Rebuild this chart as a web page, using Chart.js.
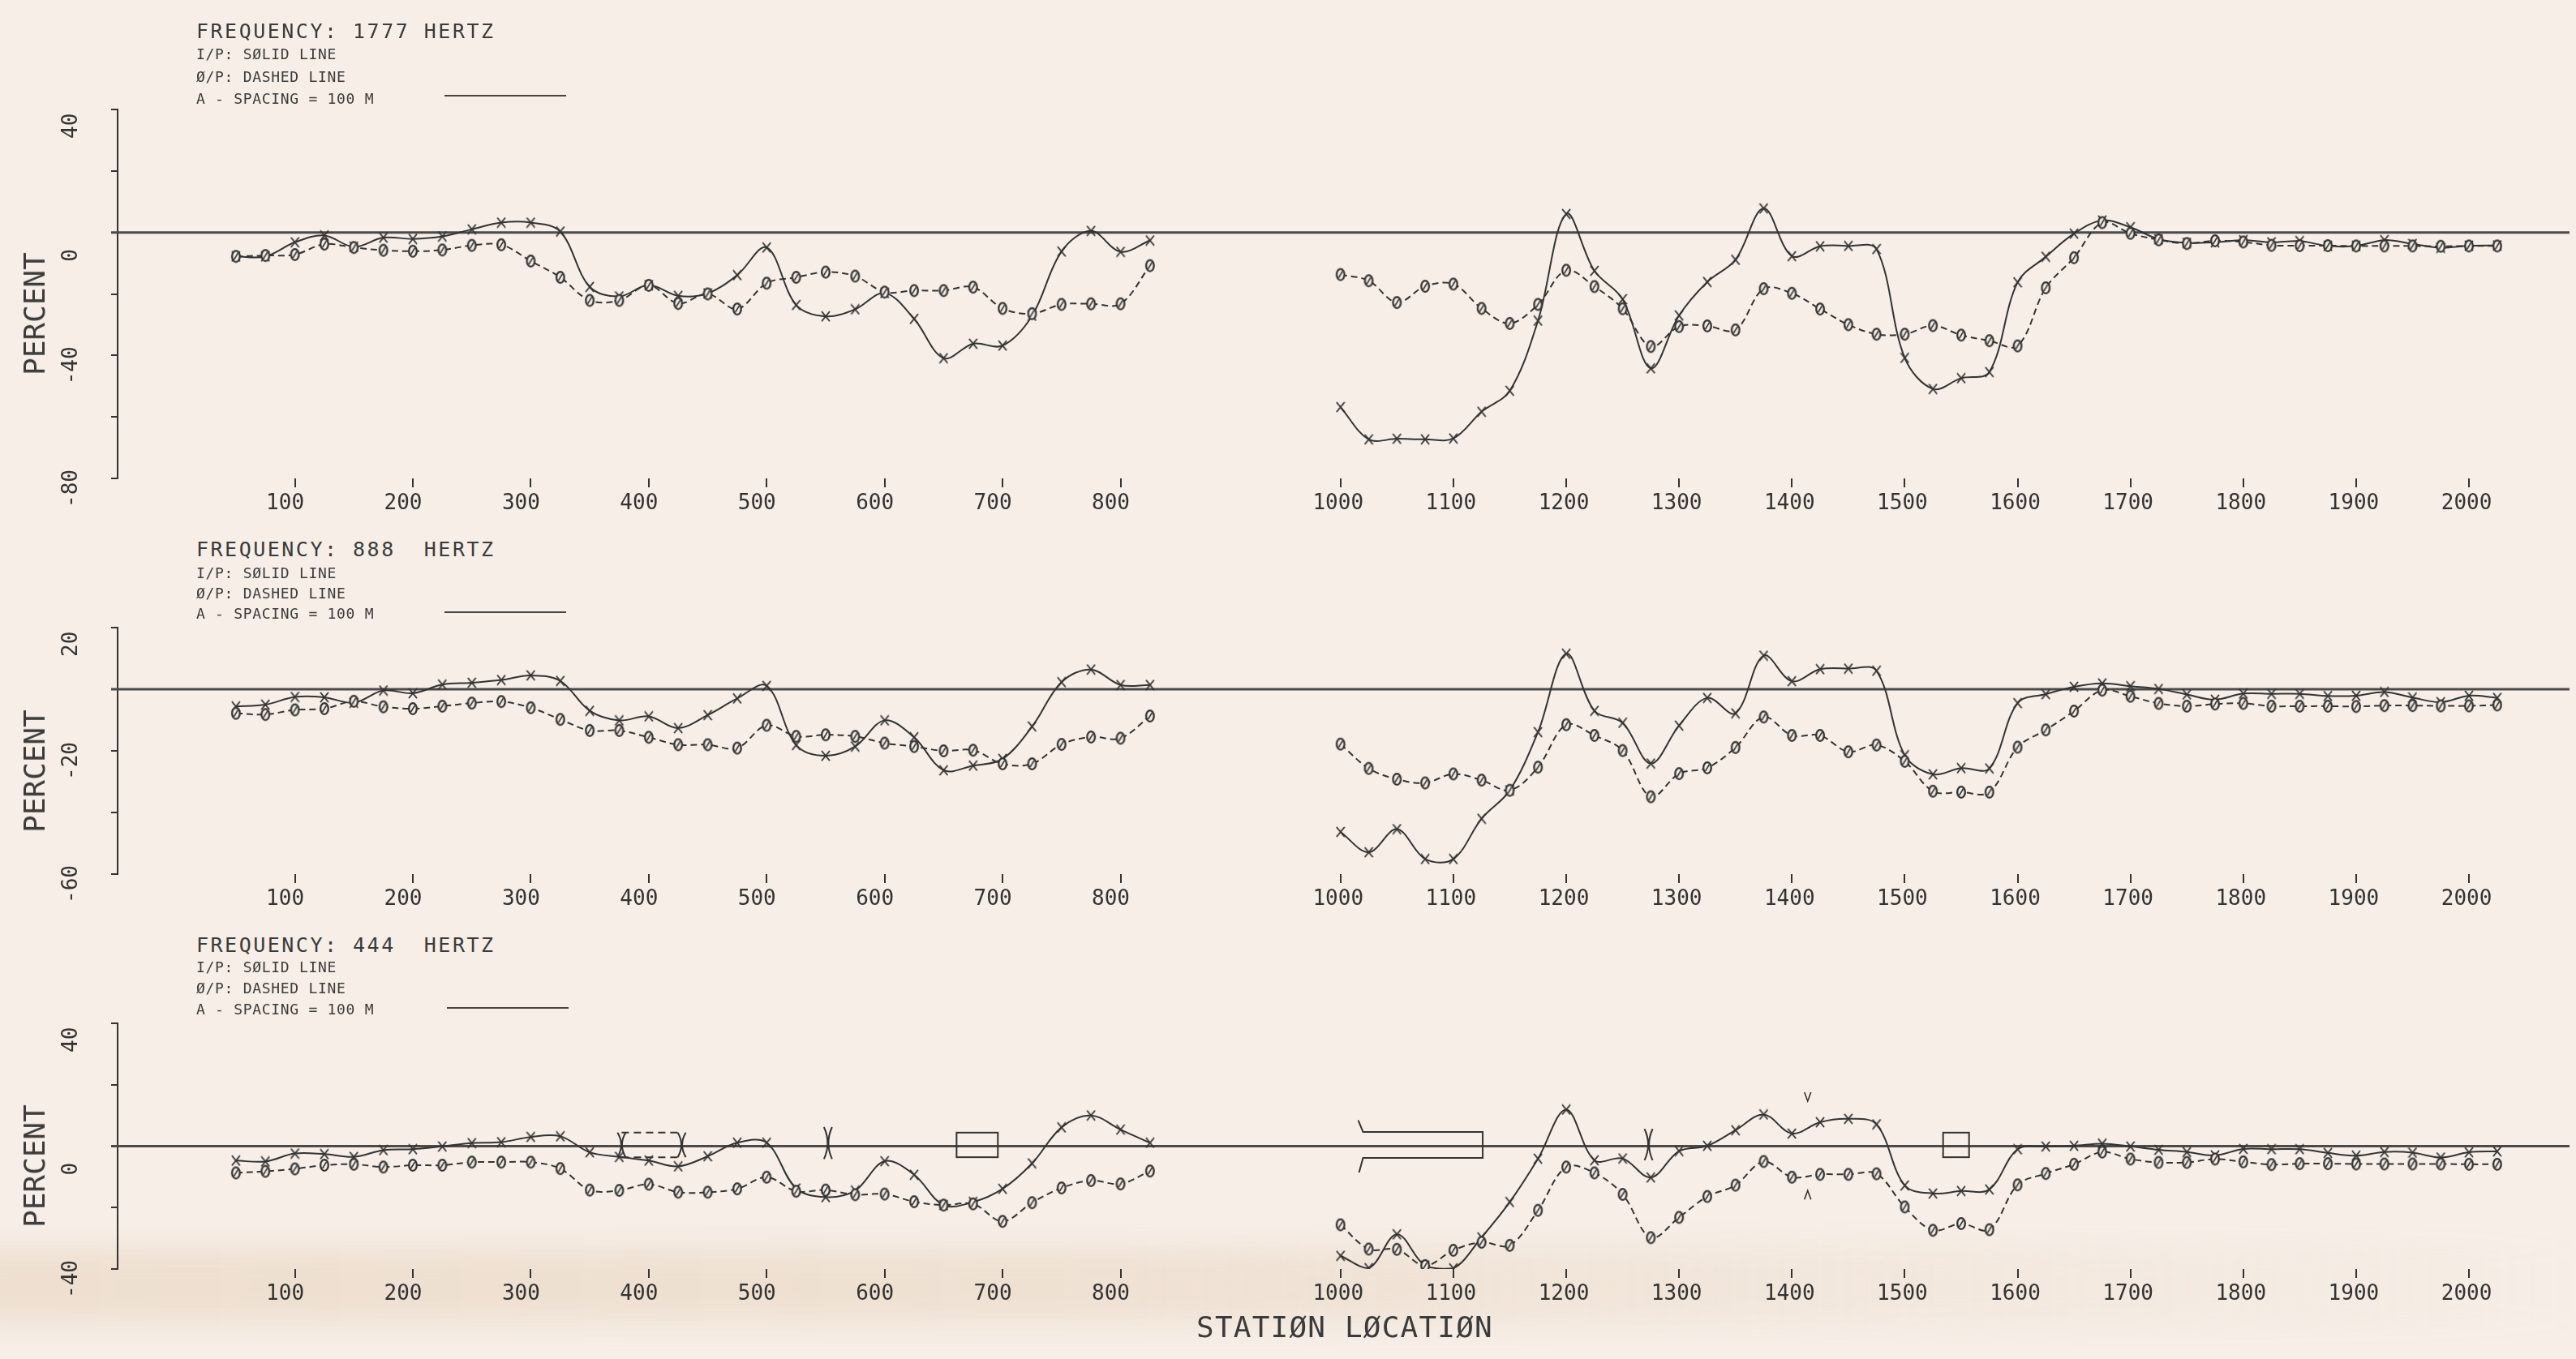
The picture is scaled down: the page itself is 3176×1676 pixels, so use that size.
<!DOCTYPE html>
<html>
<head>
<meta charset="utf-8">
<title>Station profiles: 1777, 888 and 444 Hz</title>
<script src="https://cdn.jsdelivr.net/npm/chart.js@4.4.1/dist/chart.umd.min.js"></script>
<style>
  html, body { margin: 0; padding: 0; background: #f6eee7; }
  #sheet { position: relative; width: 3176px; height: 1676px; overflow: hidden; background: #f6eee7; }
  #stain { position: absolute; left: -100px; top: 1540px; width: 3300px; height: 90px;
           background: linear-gradient(90deg, rgba(226,200,172,0.38), rgba(226,200,172,0.34) 45%, rgba(226,200,172,0.12) 80%, rgba(226,200,172,0));
           filter: blur(16px); }
  canvas.plot { position: absolute; left: 0; }
  .t { position: absolute; left: 242px; font-family: "DejaVu Sans Mono", monospace; color: #3b3b3b;
       white-space: pre; line-height: 1; transform: translateY(-50%); }
  .freq { font-size: 25px; letter-spacing: 2.5px; }
  .note { font-size: 18px; letter-spacing: 0.7px; }
  .key { position: absolute; width: 150px; height: 0; border-top: 2px solid #444; }
  .ylab { position: absolute; left: 43px; font-family: "DejaVu Sans Mono", monospace; font-size: 36px;
          color: #3b3b3b; line-height: 1; white-space: pre; transform: translate(-50%, -50%) rotate(-90deg); }
  .xlab { position: absolute; font-family: "DejaVu Sans Mono", monospace; font-size: 36px; letter-spacing: 1.2px;
          color: #3b3b3b; line-height: 1; white-space: pre; transform: translate(-50%, -50%); }
</style>
</head>
<body>
<div id="sheet">
  <div id="stain"></div>
  <canvas id="p1" class="plot" width="3176" height="660" style="top:0px"></canvas>
  <canvas id="p2" class="plot" width="3176" height="450" style="top:700px"></canvas>
  <canvas id="p3" class="plot" width="3176" height="476" style="top:1200px"></canvas>

  <div class="t freq" style="top:38px">FREQUENCY: 1777 HERTZ</div>
  <div class="t note" style="top:67px">I/P: SØLID LINE</div>
  <div class="t note" style="top:95px">Ø/P: DASHED LINE</div>
  <div class="t note" style="top:122px">A - SPACING = 100 M</div>
  <div class="key" style="left:548px; top:117px"></div>
  <div class="ylab" style="top:387px">PERCENT</div>

  <div class="t freq" style="top:677px">FREQUENCY: 888  HERTZ</div>
  <div class="t note" style="top:707px">I/P: SØLID LINE</div>
  <div class="t note" style="top:732px">Ø/P: DASHED LINE</div>
  <div class="t note" style="top:757px">A - SPACING = 100 M</div>
  <div class="key" style="left:548px; top:754px"></div>
  <div class="ylab" style="top:951px">PERCENT</div>

  <div class="t freq" style="top:1165px">FREQUENCY: 444  HERTZ</div>
  <div class="t note" style="top:1193px">I/P: SØLID LINE</div>
  <div class="t note" style="top:1219px">Ø/P: DASHED LINE</div>
  <div class="t note" style="top:1245px">A - SPACING = 100 M</div>
  <div class="key" style="left:551px; top:1242px"></div>
  <div class="ylab" style="top:1438px">PERCENT</div>

  <div class="xlab" style="left:1658px; top:1637px">STATIØN LØCATIØN</div>
</div>

<script>
// Station positions (metres) of the two survey segments
const leftStations = [50, 75, 100, 125, 150, 175, 200, 225, 250, 275, 300, 325, 350, 375, 400, 425,
                      450, 475, 500, 525, 550, 575, 600, 625, 650, 675, 700, 725, 750, 775, 800, 825];
const rightStations = [1000, 1025, 1050, 1075, 1100, 1125, 1150, 1175, 1200, 1225, 1250, 1275, 1300, 1325,
                       1350, 1375, 1400, 1425, 1450, 1475, 1500, 1525, 1550, 1575, 1600, 1625, 1650, 1675,
                       1700, 1725, 1750, 1775, 1800, 1825, 1850, 1875, 1900, 1925, 1950, 1975, 2000, 2025];

// Axis tick labels
const leftTicks = [100, 200, 300, 400, 500, 600, 700, 800];
const rightTicks = [1000, 1100, 1200, 1300, 1400, 1500, 1600, 1700, 1800, 1900, 2000];

// 1777 Hz: in-phase (solid) and out-of-phase (dashed), percent
const ip1777L = [-7.8, -7.8, -3.2, -1.0, -4.7, -1.7, -2.1, -1.3, 1.0, 3.2, 3.2, 0.3, -17.7, -20.8, -17.1, -20.6,
                 -19.8, -13.9, -4.9, -23.6, -27.3, -25.0, -19.7, -28.1, -40.9, -36.2, -36.8, -27.1, -6.2, 0.5, -6.3, -2.6];
const op1777L = [-7.8, -7.5, -7.2, -3.8, -4.9, -5.8, -6.1, -5.7, -4.2, -4.0, -9.3, -14.6, -22.1, -22.1, -17.2, -23.1,
                 -20.0, -24.9, -16.5, -14.6, -12.9, -14.2, -19.4, -18.9, -18.9, -17.8, -24.7, -26.4, -23.4, -23.2, -23.2, -10.8];
const ip1777R = [-56.8, -67.3, -67.1, -67.3, -67.0, -58.3, -51.5, -28.7, 6.0, -12.5, -21.7, -44.2, -27.0, -16.1,
                 -8.9, 7.8, -7.7, -4.5, -4.4, -5.4, -40.8, -50.9, -47.4, -45.4, -16.2, -7.9, -0.4, 3.9,
                 1.7, -2.2, -3.4, -3.2, -2.5, -3.2, -2.8, -4.4, -4.4, -2.5, -3.7, -5.0, -4.3, -4.2];
const op1777R = [-13.7, -15.7, -22.8, -17.5, -16.8, -24.7, -29.6, -23.4, -12.3, -17.6, -24.8, -37.1, -30.6, -30.4,
                 -31.7, -18.3, -19.8, -24.9, -30.0, -33.1, -33.1, -30.3, -33.4, -35.2, -36.9, -18.0, -8.2, 3.2,
                 -0.3, -2.4, -3.6, -2.7, -3.1, -4.2, -4.3, -4.3, -4.4, -4.4, -4.4, -4.5, -4.4, -4.4];

// 888 Hz
const ip888L = [-5.6, -5.0, -2.5, -2.6, -4.4, -0.4, -1.3, 1.5, 2.1, 3.0, 4.5, 2.7, -7.0, -10.1, -8.8, -12.6,
                -8.4, -3.0, 1.1, -18.1, -21.6, -18.6, -10.1, -15.6, -26.3, -24.8, -22.6, -12.1, 2.3, 6.4, 1.4, 1.4];
const op888L = [-7.8, -8.2, -6.7, -6.3, -3.9, -5.7, -6.3, -5.5, -4.5, -4.0, -6.0, -9.8, -13.4, -13.4, -15.6, -18.0,
                -18.0, -19.1, -11.7, -15.3, -14.8, -15.3, -17.5, -18.6, -20.0, -19.8, -24.2, -24.2, -17.9, -15.5, -15.9, -8.7];
const ip888R = [-46.3, -52.9, -45.4, -55.1, -55.1, -42.0, -32.8, -13.9, 11.5, -7.0, -10.9, -24.1, -11.8, -2.8,
                -7.8, 10.9, 2.6, 6.5, 6.7, 6.0, -21.4, -27.6, -25.6, -25.7, -4.5, -1.6, 0.8, 1.9,
                1.0, 0.1, -1.7, -3.4, -1.4, -1.5, -1.5, -2.2, -2.1, -0.9, -2.7, -4.2, -2.1, -2.8];
const op888R = [-17.8, -25.7, -29.2, -30.4, -27.5, -29.5, -32.8, -25.3, -11.5, -15.0, -19.9, -34.9, -27.4, -25.5,
                -18.9, -9.0, -15.0, -15.0, -20.3, -18.1, -23.4, -33.1, -33.4, -33.4, -18.8, -13.2, -7.1, -0.3,
                -2.3, -4.6, -5.5, -4.8, -4.6, -5.5, -5.5, -5.5, -5.6, -5.3, -5.3, -5.4, -5.4, -5.1];

// 444 Hz
const ip444L = [-4.7, -5.0, -2.4, -2.6, -3.5, -1.3, -1.0, -0.1, 1.0, 1.3, 3.0, 3.2, -2.0, -3.5, -4.7, -6.6,
                -3.3, 1.1, 1.1, -13.8, -16.6, -14.5, -4.9, -9.3, -19.2, -18.2, -13.9, -5.6, 6.1, 10.0, 5.4, 1.1];
const op444L = [-8.7, -8.2, -7.4, -6.2, -5.9, -6.8, -6.2, -6.2, -5.2, -5.2, -5.2, -7.3, -14.3, -14.4, -12.4, -15.0,
                -15.0, -13.9, -10.1, -14.7, -14.3, -15.8, -15.6, -18.1, -19.2, -18.8, -24.5, -18.4, -13.6, -11.2, -12.3, -8.1];
const ip444R = [-35.7, -39.7, -28.7, -38.9, -39.8, -29.7, -18.2, -4.1, 11.9, -4.6, -4.0, -10.2, -1.6, 0.1,
                5.2, 10.3, 4.1, 7.8, 8.9, 7.1, -12.8, -15.4, -14.6, -14.1, -1.0, -0.1, 0.1, 0.8,
                -0.1, -1.2, -1.9, -3.0, -0.9, -1.0, -1.0, -2.2, -3.1, -1.9, -2.1, -3.7, -2.0, -1.7];
const op444R = [-25.6, -33.5, -33.6, -38.9, -33.9, -31.3, -32.3, -20.9, -6.8, -8.7, -15.7, -29.8, -23.2, -16.4,
                -12.7, -5.0, -10.1, -9.2, -9.2, -9.0, -19.8, -27.4, -25.2, -27.2, -12.6, -8.9, -5.9, -1.9,
                -4.2, -5.3, -5.3, -4.2, -5.1, -6.0, -5.7, -5.7, -5.8, -5.8, -5.8, -5.8, -5.9, -5.9];

// Interpretation symbols on the 444 Hz profile (stations)
const gapMarksL = [[377, 428]];
const pinchMarksL = [552];
const pinchMarksR = [1273];
const boxMarksL = [[661, 696]];
const boxMarksR = [[1534, 1557]];
const channelMarksR = [[1020, 1126]];
const chevronMarksR = [1414];

const INK = '#333333';
const PAPER = '#f6eee7';
const FONT = '"DejaVu Sans Mono", monospace';

function crossMark() {
  const c = document.createElement('canvas');
  c.width = 12; c.height = 14;
  const g = c.getContext('2d');
  g.strokeStyle = INK; g.lineWidth = 1.9; g.lineCap = 'round';
  g.beginPath();
  g.moveTo(1.5, 1.5); g.lineTo(10.5, 12.5);
  g.moveTo(10.5, 1.5); g.lineTo(1.5, 12.5);
  g.stroke();
  return c;
}

function ringMark() {
  const c = document.createElement('canvas');
  c.width = 14; c.height = 18;
  const g = c.getContext('2d');
  g.fillStyle = PAPER; g.strokeStyle = INK; g.lineWidth = 2.3;
  g.beginPath(); g.ellipse(7, 9, 4.8, 6.8, 0, 0, Math.PI * 2); g.fill(); g.stroke();
  g.lineWidth = 1.6;
  g.beginPath(); g.moveTo(4.6, 13); g.lineTo(9.4, 5); g.stroke();
  return c;
}

const CROSS = crossMark();
const RING = ringMark();

function pts(stations, values) {
  return stations.map((s, i) => ({ x: s, y: values[i] }));
}

function solid(stations, values, axis) {
  return { data: pts(stations, values), xAxisID: axis, yAxisID: 'y', borderColor: INK, borderWidth: 2,
           tension: 0.35, fill: false, pointStyle: CROSS, pointRadius: 6 };
}

function dashed(stations, values, axis) {
  return { data: pts(stations, values), xAxisID: axis, yAxisID: 'y', borderColor: INK, borderWidth: 2,
           borderDash: [8, 5], tension: 0.35, fill: false, pointStyle: RING, pointRadius: 6 };
}

function yScale(min, max) {
  return {
    type: 'linear', position: 'left', min: min, max: max,
    afterFit(s) { s.width = 70; },
    border: { display: true, color: INK, width: 2 },
    grid: { drawOnChartArea: false, drawTicks: true, tickLength: 8, color: INK, lineWidth: 2 },
    ticks: { stepSize: 20, autoSkip: false, minRotation: 90, maxRotation: 90, crossAlign: 'far', align: 'start',
             labelOffset: 36, color: INK, font: { family: FONT, size: 26 },
             callback: v => ((v - min) % 40 === 0 ? String(v) : '') }
  };
}

function xScale(lo, hi, ticks, yMin, shift) {
  return {
    type: 'linear', axis: 'x', position: { y: yMin }, min: lo, max: hi,
    afterBuildTicks(s) { s.ticks = ticks.map(v => ({ value: v })); },
    border: { display: false },
    grid: { drawOnChartArea: false, drawTicks: true, tickLength: 11, color: INK, lineWidth: 2 },
    ticks: { autoSkip: false, minRotation: 0, maxRotation: 0, padding: 5, labelOffset: shift,
             color: INK, font: { family: FONT, size: 26 }, callback: v => String(v) }
  };
}

// Horizontal zero reference across the whole sheet
const zeroLine = {
  id: 'zeroLine',
  beforeDatasetsDraw(chart) {
    const { ctx, chartArea, scales } = chart;
    const py = scales.y.getPixelForValue(0);
    ctx.save();
    ctx.strokeStyle = '#4a4a4a'; ctx.lineWidth = 3;
    ctx.beginPath(); ctx.moveTo(chartArea.left - 8, py); ctx.lineTo(chartArea.right, py); ctx.stroke();
    ctx.restore();
  }
};

// Conductor / culture symbols drawn on the 444 Hz profile
const fieldMarks = {
  id: 'fieldMarks',
  afterDatasetsDraw(chart) {
    const { ctx, scales } = chart;
    const { xL, xR, y } = scales;
    const top = y.getPixelForValue(4.4);
    const bot = y.getPixelForValue(-3.6);
    ctx.save();
    ctx.strokeStyle = INK; ctx.lineWidth = 2;

    const pinch = (px, t, b) => {
      const m = (t + b) / 2;
      ctx.beginPath();
      ctx.moveTo(px - 5, t); ctx.quadraticCurveTo(px + 4, m, px - 5, b);
      ctx.moveTo(px + 5, t); ctx.quadraticCurveTo(px - 4, m, px + 5, b);
      ctx.stroke();
    };
    const rect = (sc, a, b) => {
      const x0 = sc.getPixelForValue(a), x1 = sc.getPixelForValue(b);
      ctx.strokeRect(x0, top, x1 - x0, bot - top);
    };

    gapMarksL.forEach(([a, b]) => {
      const x0 = xL.getPixelForValue(a), x1 = xL.getPixelForValue(b);
      ctx.setLineDash([9, 6]);
      ctx.beginPath();
      ctx.moveTo(x0, top); ctx.lineTo(x1, top);
      ctx.moveTo(x0, bot); ctx.lineTo(x1, bot);
      ctx.stroke();
      ctx.setLineDash([]);
      pinch(x0, top, bot);
      pinch(x1, top, bot);
    });
    pinchMarksL.forEach(s => pinch(xL.getPixelForValue(s), y.getPixelForValue(6.2), y.getPixelForValue(-4.2)));
    pinchMarksR.forEach(s => pinch(xR.getPixelForValue(s), y.getPixelForValue(5.6), y.getPixelForValue(-4.6)));
    boxMarksL.forEach(([a, b]) => rect(xL, a, b));
    boxMarksR.forEach(([a, b]) => rect(xR, a, b));

    channelMarksR.forEach(([a, b]) => {
      const x0 = xR.getPixelForValue(a), x1 = xR.getPixelForValue(b);
      const t = y.getPixelForValue(4.6), bt = y.getPixelForValue(-3.8);
      ctx.beginPath();
      ctx.moveTo(x0 - 6, y.getPixelForValue(8.4)); ctx.lineTo(x0, t); ctx.lineTo(x1, t); ctx.lineTo(x1, bt);
      ctx.lineTo(x0, bt); ctx.lineTo(x0 - 5, y.getPixelForValue(-8.6));
      ctx.stroke();
    });

    chevronMarksR.forEach(s => {
      const px = xR.getPixelForValue(s);
      const up = y.getPixelForValue(16.0), dn = y.getPixelForValue(-15.8);
      ctx.lineWidth = 1.6;
      ctx.beginPath();
      ctx.moveTo(px - 4, up - 6); ctx.lineTo(px, up + 5); ctx.lineTo(px + 4, up - 6);
      ctx.moveTo(px - 4, dn + 6); ctx.lineTo(px, dn - 5); ctx.lineTo(px + 4, dn + 6);
      ctx.stroke();
    });
    ctx.restore();
  }
};

function panel(id, yMin, yMax, padTop, padBottom, series, extra) {
  const ctx = document.getElementById(id).getContext('2d');
  return new Chart(ctx, {
    type: 'line',
    data: {
      datasets: [
        dashed(leftStations, series.opL, 'xL'),
        solid(leftStations, series.ipL, 'xL'),
        dashed(rightStations, series.opR, 'xR'),
        solid(rightStations, series.ipR, 'xR')
      ]
    },
    options: {
      responsive: false, animation: false, devicePixelRatio: 1,
      layout: { padding: { left: 75, right: 0, top: padTop, bottom: padBottom } },
      plugins: { legend: { display: false }, tooltip: { enabled: false }, title: { display: false } },
      scales: {
        y: yScale(yMin, yMax),
        xL: xScale(-50.3, 2028.5, leftTicks, yMin, -12),
        xR: xScale(-83.7, 2089.1, rightTicks, yMin, -3)
      }
    },
    plugins: extra ? [zeroLine, extra] : [zeroLine]
  });
}

panel('p1', -80, 40, 135, 70, { ipL: ip1777L, opL: op1777L, ipR: ip1777R, opR: op1777R });
panel('p2', -60, 20, 74, 72, { ipL: ip888L, opL: op888L, ipR: ip888R, opR: op888R });
panel('p3', -40, 40, 62, 111, { ipL: ip444L, opL: op444L, ipR: ip444R, opR: op444R }, fieldMarks);
</script>
</body>
</html>
